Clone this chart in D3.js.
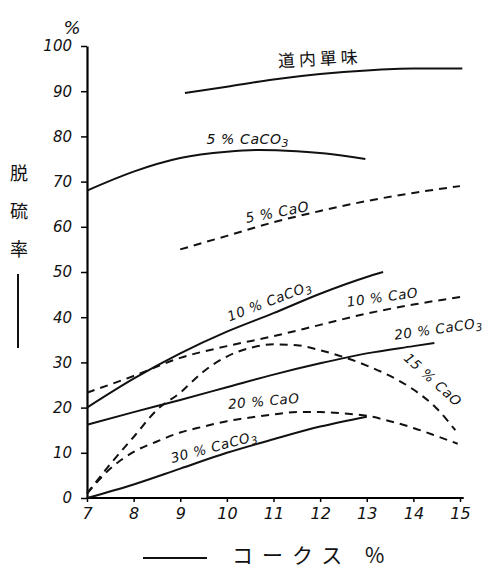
<!DOCTYPE html>
<html>
<head>
<meta charset="utf-8">
<script src="https://cdn.jsdelivr.net/npm/d3@7"></script>
<style>
  body { margin: 0; background: #fff; }
  svg { display: block; }
  .tick text { font-family: "DejaVu Sans", sans-serif; font-style: italic; }
  .lbl { font-family: "DejaVu Sans", sans-serif; fill: #111; }
</style>
</head>
<body>
<div id="chart"></div>
<script>
// coke % on the x axis
const xTicks = [7, 8, 9, 10, 11, 12, 13, 14, 15];
const yTicks = [0, 10, 20, 30, 40, 50, 60, 70, 80, 90, 100];

// desulfurization rate (%)
const soloX = [9.1, 10, 11, 12, 13, 14, 15.05];
const soloY = [89.6, 91, 92.6, 93.8, 94.6, 95, 95];

const caco3_5X = [7, 8, 9, 10, 10.7, 11.5, 12.3, 12.97];
const caco3_5Y = [68, 72.2, 75.2, 76.6, 77, 76.7, 76, 75];

const cao5X = [9, 10, 11, 12, 13, 14, 15];
const cao5Y = [55, 58, 61, 63.5, 65.7, 67.5, 69];

const caco3_10X = [7, 8, 9, 10, 11, 12, 13, 13.35];
const caco3_10Y = [20, 26.4, 32, 36.8, 40.9, 45.2, 48.9, 50];

const cao10X = [7, 8, 9, 10, 11, 12, 13, 14, 15.1];
const cao10Y = [23.3, 27, 31, 33.6, 35.8, 38.3, 40.8, 42.8, 44.6];

const caco3_20X = [7, 8, 9, 10, 11, 12, 13, 14, 14.45];
const caco3_20Y = [16.2, 19, 21.7, 24.5, 27.3, 29.8, 32, 33.6, 34.3];

const cao15X = [7, 7.5, 8, 8.5, 9, 9.5, 10, 10.5, 11, 11.5, 12, 12.5, 13, 13.5, 14, 14.5, 14.9];
const cao15Y = [1, 7.5, 13.5, 19.5, 23.3, 28, 31.3, 33.2, 34, 33.8, 32.7, 31.2, 29.3, 27, 24, 19.8, 15];

const cao20X = [7, 7.5, 8, 8.5, 9, 9.5, 10, 10.5, 11, 11.5, 12, 12.5, 13, 13.5, 14, 14.5, 14.95];
const cao20Y = [1, 6.5, 10.2, 12.5, 14.5, 15.8, 17, 17.8, 18.5, 19, 19, 18.7, 18.2, 17, 15.5, 13.7, 12];

const caco3_30X = [7, 8, 9, 10, 11, 12, 13];
const caco3_30Y = [0, 3, 6.5, 10, 13, 15.8, 18];

const series = [
    { xs: soloX, ys: soloY, dashed: false },
    { xs: caco3_5X, ys: caco3_5Y, dashed: false },
    { xs: cao5X, ys: cao5Y, dashed: true },
    { xs: caco3_10X, ys: caco3_10Y, dashed: false },
    { xs: cao10X, ys: cao10Y, dashed: true },
    { xs: caco3_20X, ys: caco3_20Y, dashed: false },
    { xs: cao15X, ys: cao15Y, dashed: true },
    { xs: cao20X, ys: cao20Y, dashed: true },
    { xs: caco3_30X, ys: caco3_30Y, dashed: false }
];

// curve labels: text, centre of baseline in data units, rotation
const labels = [
    { text: "道内單味", sub: "", x: 12.0, y: 95.8, rot: -3, size: 17, italic: false },
    { text: "5 % CaCO", sub: "3", x: 10.45, y: 78.3, rot: 0, size: 14, italic: true },
    { text: "5 % CaO", sub: "", x: 11.1, y: 62.2, rot: -11, size: 14, italic: true },
    { text: "10 % CaCO", sub: "3", x: 10.95, y: 42.6, rot: -21, size: 13.5, italic: true },
    { text: "10 % CaO", sub: "", x: 13.35, y: 43.4, rot: -8, size: 13.5, italic: true },
    { text: "20 % CaCO", sub: "3", x: 14.55, y: 36.4, rot: -8, size: 13.5, italic: true },
    { text: "15 % CaO", sub: "", x: 14.35, y: 25.4, rot: 42, size: 13.5, italic: true },
    { text: "20 % CaO", sub: "", x: 10.8, y: 20.4, rot: -5, size: 13.5, italic: true },
    { text: "30 % CaCO", sub: "3", x: 9.75, y: 10.3, rot: -15, size: 13.5, italic: true }
];

const config = {
    containerWidth: 487,
    containerHeight: 568,
    margin: { top: 46, right: 27, bottom: 70, left: 87 }
};

const width = config.containerWidth - config.margin.left - config.margin.right;
const height = config.containerHeight - config.margin.top - config.margin.bottom;

const svg = d3.select('#chart')
    .append('svg')
    .attr('width', config.containerWidth)
    .attr('height', config.containerHeight);

const g = svg.append('g')
    .attr('transform', `translate(${config.margin.left},${config.margin.top})`);

const xScale = d3.scaleLinear().domain([7, 15]).range([0, 373]);
const yScale = d3.scaleLinear().domain([0, 100]).range([height, 0]);

// Axes
const xAxis = g.append('g')
    .attr('transform', `translate(0,${height})`)
    .call(d3.axisBottom(xScale).tickValues(xTicks).tickSize(4).tickPadding(6).tickSizeOuter(0));
xAxis.select('.domain').attr('stroke-width', 2.2).attr('d', `M0,0H${xScale(15.08)}`);
xAxis.selectAll('.tick line').attr('stroke-width', 1.5);
xAxis.selectAll('.tick text').attr('font-size', 16).attr('fill', '#111');

const yAxis = g.append('g')
    .call(d3.axisLeft(yScale).tickValues(yTicks).tickSize(6).tickPadding(9).tickSizeOuter(0));
yAxis.select('.domain').attr('stroke-width', 2.2);
yAxis.selectAll('.tick line').attr('stroke-width', 1.5);
yAxis.selectAll('.tick text').attr('font-size', 15).attr('fill', '#111');

// Curves
const line = d3.line()
    .x(d => xScale(d[0]))
    .y(d => yScale(d[1]))
    .curve(d3.curveMonotoneX);

series.forEach(s => {
    const pts = s.xs.map((x, i) => [x, s.ys[i]]);
    g.append('path')
        .datum(pts)
        .attr('fill', 'none')
        .attr('stroke', '#111')
        .attr('stroke-width', 2)
        .attr('stroke-dasharray', s.dashed ? '8,6' : null)
        .attr('d', line);
});

// Curve labels
labels.forEach(l => {
    const px = xScale(l.x), py = yScale(l.y);
    const t = g.append('text')
        .attr('class', 'lbl')
        .attr('text-anchor', 'middle')
        .attr('transform', `translate(${px},${py}) rotate(${l.rot})`)
        .style('font-size', l.size + 'px')
        .style('font-style', l.italic ? 'italic' : 'normal')
        .style('letter-spacing', l.italic ? '0.6px' : '4px')
        .style('font-family', l.italic ? '"DejaVu Sans", sans-serif' : '"Noto Sans CJK JP", sans-serif')
        .text(l.text);
    if (l.sub) {
        t.append('tspan').attr('dy', 3).style('font-size', (l.size - 3) + 'px').text(l.sub);
    }
});

// Percent sign above the y axis
svg.append('text')
    .attr('class', 'lbl')
    .attr('x', 72).attr('y', 34)
    .style('font-size', '18px')
    .style('font-style', 'italic')
    .attr('text-anchor', 'middle')
    .text('%');

// Y axis title, written vertically, with a line under it
const yTitle = ['脱', '硫', '率'];
yTitle.forEach((c, i) => {
    svg.append('text')
        .attr('x', 19).attr('y', 180 + i * 38)
        .attr('font-family', '"Noto Sans CJK JP", sans-serif')
        .attr('font-size', 18)
        .attr('text-anchor', 'middle')
        .attr('fill', '#111')
        .text(c);
});
svg.append('line')
    .attr('x1', 18).attr('x2', 18)
    .attr('y1', 274).attr('y2', 348)
    .attr('stroke', '#111').attr('stroke-width', 2);

// X axis title with arrow line
svg.append('line')
    .attr('x1', 143).attr('x2', 207)
    .attr('y1', 558).attr('y2', 558)
    .attr('stroke', '#111').attr('stroke-width', 2);
svg.append('text')
    .attr('x', 232).attr('y', 563)
    .attr('font-family', '"Noto Sans CJK JP", sans-serif')
    .attr('font-size', 21)
    .attr('letter-spacing', 9)
    .attr('fill', '#111')
    .text('コークス %');
</script>
</body>
</html>
